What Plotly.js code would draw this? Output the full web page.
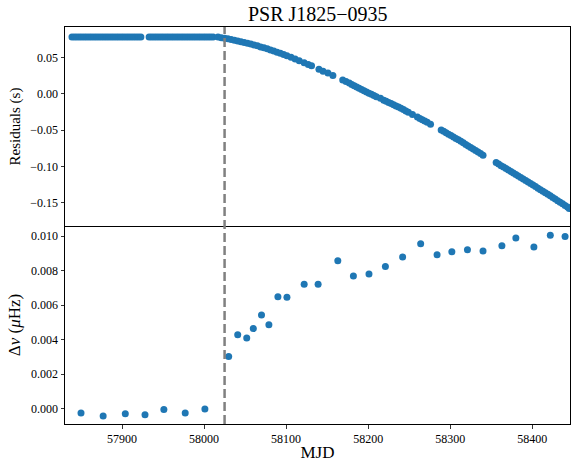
<!DOCTYPE html>
<html>
<head>
<meta charset="utf-8">
<script src="https://cdn.plot.ly/plotly-3.0.1.min.js"></script>
<style>html,body{margin:0;padding:0;background:#fff;}#chart{width:571px;height:462px;}</style>
</head>
<body>
<div id="chart"></div>
<script>
// Timing residuals (top panel)
var resMJD = [
 57839,57842,57845,57848,57851,57854,57857,57860,57863,57866,57869,57872,57875,57878,57881,57884,57887,57890,57893,57896,57899,57902,57905,57908,57911,57914,57917,57920,57923,
 57933,57936,57939,57942,57945,57948,57951,57954,57957,57960,57963,57966,57969,57972,57975,57978,57981,57984,57987,57990,57993,57996,57999,58002,58005,58008,58011,
 58017,58021,58025,58029,58033,58037,58041,58045,58049,58053,58057,58061,58065,58069,58073,58077,58081,58085,58089,58093,58097,58101,58106,58111,58116,58122,58127,58131,58140,58145,58151,58157,
 58169,58173,58177,58180,58183,58186,58189,58192,58195,58198,58201,58204,58207,58210,58215,58219,58222,58225,58228,58231,58234,58237,58240,58243,58246,58249,58254,58260,58263,58266,58269,58272,58276,
 58289,58292,58295,58298,58301,58304,58307,58310,58313,58316,58319,58322,58325,58328,58331,58334,58337,58340,
 58356,58359,58362,58365,58368,58371,58374,58377,58380,58383,58386,58389,58392,58395,58398,58401,58404,58407,58410,58413,58416,58419,58422,58425,58428,58431,58434,58437,58440,58443,58445
];
var resSec = [
 0.0782,0.0782,0.0781,0.0782,0.0781,0.0782,0.0782,0.0781,0.0782,0.0782,0.0781,0.0782,0.0782,0.0781,0.0782,0.0782,0.0781,0.0782,0.0782,0.0781,0.0782,0.0782,0.0781,0.0782,0.0782,0.0781,0.0782,0.0782,0.0781,
 0.0782,0.0782,0.0781,0.0782,0.0782,0.0781,0.0782,0.0782,0.0781,0.0782,0.0782,0.0781,0.0782,0.0782,0.0781,0.0782,0.0782,0.0781,0.0782,0.0782,0.0781,0.0782,0.0782,0.0781,0.0782,0.0782,0.0781,
 0.0780,0.0772,0.0764,0.0756,0.0746,0.0736,0.0726,0.0716,0.0705,0.0695,0.0684,0.0672,0.0660,0.0645,0.0632,0.0618,0.0602,0.0588,0.0572,0.0556,0.0540,0.0522,0.0502,0.0478,0.0456,0.0428,0.0402,0.0385,0.0337,0.0310,0.0287,0.0252,
 0.0190,0.0168,0.0148,0.0128,0.0110,0.0092,0.0075,0.0058,0.0042,0.0025,0.0008,-0.0008,-0.0025,-0.0040,-0.0062,-0.0088,-0.0103,-0.0120,-0.0135,-0.0152,-0.0168,-0.0183,-0.0200,-0.0218,-0.0236,-0.0253,-0.0285,-0.0320,-0.0340,-0.0358,-0.0376,-0.0392,-0.0420,
 -0.0498,-0.0518,-0.0537,-0.0556,-0.0576,-0.0596,-0.0615,-0.0635,-0.0655,-0.0676,-0.0697,-0.0718,-0.0739,-0.0760,-0.0781,-0.0802,-0.0823,-0.0845,
 -0.0948,-0.0968,-0.0990,-0.1010,-0.1030,-0.1050,-0.1070,-0.1090,-0.1112,-0.1133,-0.1153,-0.1174,-0.1195,-0.1216,-0.1237,-0.1258,-0.1278,-0.1300,-0.1321,-0.1342,-0.1363,-0.1385,-0.1406,-0.1428,-0.1450,-0.1472,-0.1494,-0.1515,-0.1537,-0.1560,-0.1580
];
// Frequency offset (bottom panel)
var nuMJD = [57850,57877,57904,57928,57951,57977,58001,58030,58041,58052,58060,58070,58079,58090,58101,58122,58139,58163,58182,58201,58221,58242,58264,58284,58302,58321,58340,58363,58380,58402,58422,58440];
var dNu = [-0.00025,-0.00042,-0.00029,-0.00035,-0.00004,-0.00025,-0.00002,0.00302,0.00429,0.00409,0.00464,0.00543,0.00486,0.00649,0.00646,0.00721,0.00721,0.00857,0.00769,0.00780,0.00823,0.00879,0.00956,0.00892,0.00909,0.00921,0.00913,0.00944,0.00988,0.00936,0.01004,0.00998];
var glitchMJD = 58025;
var xTicks = [57900,58000,58100,58200,58300,58400];

var blue = '#1f77b4';
var font = 'Liberation Serif, Times New Roman, serif';
var split = 0.4987;

var traces = [
  {x: resMJD, y: resSec, xaxis: 'x2', yaxis: 'y2', mode: 'markers', type: 'scatter',
   marker: {color: blue, size: 7}, hoverinfo: 'skip'},
  {x: nuMJD, y: dNu, xaxis: 'x', yaxis: 'y', mode: 'markers', type: 'scatter',
   marker: {color: blue, size: 7}, hoverinfo: 'skip'}
];

var axCommon = {showline: true, linecolor: 'black', linewidth: 1, mirror: true,
  ticks: 'outside', ticklen: 3.5, tickwidth: 0.8, tickcolor: 'black',
  showgrid: false, zeroline: false, tickfont: {family: font, size: 12, color: 'black'}};

var layout = {
  width: 571, height: 462,
  margin: {l: 65, r: 1, t: 27, b: 38},
  paper_bgcolor: 'white', plot_bgcolor: 'white',
  showlegend: false,
  font: {family: font, color: 'black'},
  title: {text: 'PSR J1825\u22120935', font: {family: font, size: 20, color: 'black'},
          x: 0.5565, xanchor: 'center', y: 0.97, yanchor: 'middle'},
  xaxis: Object.assign({}, axCommon, {anchor: 'y', domain: [0, 1], range: [57830.5, 58446],
          mirror: false,
          tickvals: xTicks, ticktext: xTicks.map(String),
          title: {text: 'MJD', font: {family: font, size: 17, color: 'black'}, standoff: 4}}),
  xaxis2: Object.assign({}, axCommon, {anchor: 'y2', matches: 'x', range: [57830.5, 58446],
          showticklabels: false, ticks: ''}),
  yaxis: Object.assign({}, axCommon, {anchor: 'x', domain: [0, split], range: [-0.000884, 0.01058],
          tickvals: [0, 0.002, 0.004, 0.006, 0.008, 0.010], tickformat: '.3f',
          title: {text: '\u0394<i>\u03bd</i> (<i>\u03bc</i>Hz)', font: {family: font, size: 17, color: 'black'}, standoff: 6}}),
  yaxis2: Object.assign({}, axCommon, {anchor: 'x2', domain: [split, 1], range: [-0.1821, 0.0919],
          tickvals: [-0.15, -0.10, -0.05, 0, 0.05], tickformat: '.2f',
          title: {text: 'Residuals (s)', font: {family: font, size: 15, color: 'black'}, standoff: 6}}),
  shapes: [
    {type: 'line', xref: 'x', yref: 'paper', x0: glitchMJD, x1: glitchMJD, y0: 0, y1: 1,
     line: {color: 'rgb(128,128,128)', width: 2.5, dash: '9px,4px'}, layer: 'above'}
  ]
};

Plotly.newPlot('chart', traces, layout, {staticPlot: true, displayModeBar: false});
</script>
</body>
</html>
